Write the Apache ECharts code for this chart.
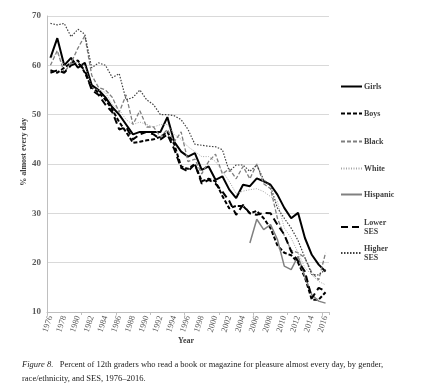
<!DOCTYPE html>
<html>
<head>
<meta charset="utf-8">
<script src="https://cdn.jsdelivr.net/npm/echarts@6/dist/echarts.min.js"></script>
<style>
html,body{margin:0;padding:0;background:#fff;}
#chart{width:421px;height:388px;}
</style>
</head>
<body>
<div id="chart"></div>
<script>
const years = [];
for (let y = 1976; y <= 2016; y++) years.push(String(y));

const girls = [61.5,65.5,60,61.5,59.5,60.5,56,55,53.5,51.5,50,48,46,46.5,46.5,46.5,46.5,49.5,44.5,42.5,41.5,42.2,38.8,39.5,36.8,37.5,34.8,33.1,35.8,35.5,37.1,36.5,35.8,33.8,31.1,29,30.1,25,21.6,19.6,18.2];
const boys = [59,58.5,59.5,60.5,61,58.5,55.5,54.5,53,51,48.5,46.5,44.3,44.5,44.8,45,45.5,46.5,44,39.5,39,40,36.5,37,36.5,33.5,31,31.5,31.5,30,30.5,29,27,23.5,22,21.5,20,17,12.5,12.5,14];
const black = [60,63,58.5,60.5,63.5,66,58,55.5,55,53.5,50.5,54,48,50.8,47.5,47.5,45.5,47,44.5,46.5,40.5,41,38,40.5,42,38,39,37,39.5,37,40,36,35,29,25.5,22.5,22,21,18,16.5,22];
const white = [61.5,62.5,60,60.5,60.5,60,55.5,55,54.5,52,51,49,48,48.5,48,47.5,48,48,46,45,43.5,42.5,41.5,41.5,40.5,38.5,36.5,34,34.5,34.8,35,34.4,33.4,32.4,27,25,22,19,17.5,16.2,15.5];
const hispanic = [null,null,null,null,null,null,null,null,null,null,null,null,null,null,null,null,null,null,null,null,null,null,null,null,null,null,null,null,null,24,28.8,26.7,27.7,24.7,19.3,18.6,21.3,17.2,13.5,12.2,11.8];
const lowerSES = [58.5,59,58.5,60,60.5,59,55,54,52,50.5,47,47.5,45,46,46.5,46,45,46,43,39.2,38.5,40,36,36.8,36,34.4,32.5,29.7,31.7,30,29.7,30.1,30,27.7,25.7,22.3,20.3,18.2,12.8,14.9,14.2];
const higherSES = [68.5,68.2,68.5,65.8,67.3,66.3,59.5,60.5,60,57.5,58.3,53,53.5,55,53,52,50,50,49.8,49,47,44,43.8,43.6,43.5,42.9,38.5,39.8,39.8,38.5,39.8,36.8,35.5,31.1,29,27,24.5,21,17.6,17.5,18.6];
const yTicks = [10,20,30,40,50,60,70];

const serif = '"Liberation Serif","DejaVu Serif",serif';

const seriesDefs = [
  {name:'Girls', data:girls, color:'#000', width:2, type:'solid'},
  {name:'Boys', data:boys, color:'#000', width:2, type:[4,2]},
  {name:'Black', data:black, color:'#7f7f7f', width:1.3, type:[4,2]},
  {name:'White', data:white, color:'#a6a6a6', width:1, type:[1,1.5]},
  {name:'Hispanic', data:hispanic, color:'#808080', width:1.5, type:'solid'},
  {name:'Lower SES', data:lowerSES, color:'#000', width:2, type:[7,4]},
  {name:'Higher SES', data:higherSES, color:'#404040', width:1.2, type:[1.5,1.5]}
];
const legendTops = [77, 104, 132, 159, 185, 213, 239];
const legendLabels = ['Girls','Boys','Black','White','Hispanic','Lower\nSES','Higher\nSES'];

const chart = echarts.init(document.getElementById('chart'), null, {renderer:'canvas'});
chart.setOption({
  animation:false,
  backgroundColor:'#fff',
  grid:{left:47, right:92, top:16, bottom:76},
  xAxis:{
    type:'category', data:years, boundaryGap:true,
    axisLine:{lineStyle:{color:'#bfbfbf', width:1}},
    axisTick:{show:true, interval:4, length:3, lineStyle:{color:'#bfbfbf'}},
    axisLabel:{interval:1, rotate:72, fontFamily:serif, fontSize:8.5, color:'#595959', margin:4}
  },
  yAxis:{
    type:'value', min:10, max:70, interval:10,
    axisLine:{show:true, lineStyle:{color:'#bfbfbf'}},
    axisTick:{show:false},
    splitLine:{lineStyle:{color:'#d9d9d9', width:1}},
    axisLabel:{fontFamily:serif, fontSize:9, fontWeight:'bold', color:'#595959', margin:6}
  },
  legend: seriesDefs.map((s,i)=>({
    data:[s.name], orient:'vertical', left:335, top:legendTops[i],
    itemWidth:21, itemHeight:8, itemGap:0,
    itemStyle:{opacity:0},
    formatter:()=>legendLabels[i],
    textStyle:{fontFamily:serif, fontSize:8, color:'#404040', fontWeight:'bold', padding:[0,0,0,-3], lineHeight:9}
  })),
  series: seriesDefs.map(s=>({
    name:s.name, type:'line', data:s.data, symbol:'none', showSymbol:false,
    connectNulls:false,
    lineStyle:{color:s.color, width:s.width, type:s.type},
    itemStyle:{color:s.color}
  })),
  graphic:[
    {type:'text', left:20, top:118, rotation:Math.PI/2,
      style:{text:'% almost every day', font:'bold 8px '+serif, fill:'#404040'}},
    {type:'text', left:178, top:337,
      style:{text:'Year', font:'bold 8px '+serif, fill:'#404040'}},
    {type:'text', left:22, top:358,
      style:{text:'{i|Figure 8.}   Percent of 12th graders who read a book or magazine for pleasure almost every day, by gender,\nrace/ethnicity, and SES, 1976–2016.',
        font:'8.5px '+serif, fill:'#222', lineHeight:14,
        rich:{i:{font:'italic 8.5px '+serif, fill:'#222'}}}}
  ]
});
</script>
</body>
</html>
